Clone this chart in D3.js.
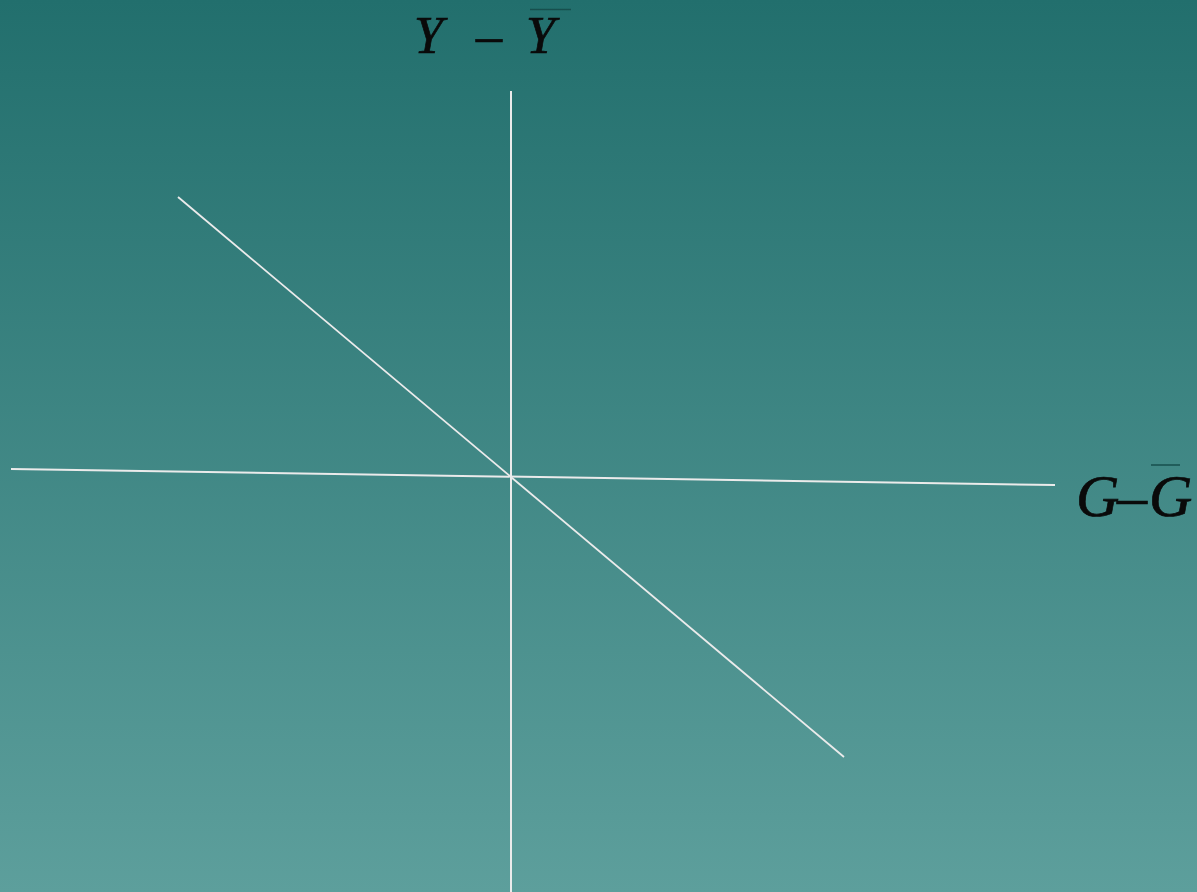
<!DOCTYPE html>
<html>
<head>
<meta charset="utf-8">
<script src="https://cdn.jsdelivr.net/npm/d3@7"></script>
<style>
	html, body { margin: 0; padding: 0; overflow: hidden; }
	svg { display: block; }
</style>
</head>
<body>
<div id="wrap"></div>
<script>
//diagram values, in data units (origin = G-Gbar = 0, Y-Ybar = 0)
var horizAxis = [[-5.00, 0.08], [5.44, -0.08]];
var vertAxis = [[0, 3.86], [0, -4.15]];
var schedule = [[-3.33, 2.80], [3.33, -2.80]];

//label pieces: text, x offset, baseline, overline?
var yLabel = [
	{t: "Y", x: 414, y: 53, bar: false},
	{t: "\u2013", x: 476, y: 53, bar: false},
	{t: "Y", x: 526, y: 53, bar: true}
];
var gLabel = [
	{t: "G", x: 1076, y: 516, bar: false},
	{t: "\u2013", x: 1117, y: 516, bar: false},
	{t: "G", x: 1149, y: 516, bar: true}
];

(function(){
	var W = 1197, H = 892;

	var svg = d3.select("#wrap").append("svg")
		.attr("width", W)
		.attr("height", H);

	//background gradient, dark teal at top to lighter teal at bottom
	var grad = svg.append("defs").append("linearGradient")
		.attr("id", "bg")
		.attr("x1", 0).attr("y1", 0).attr("x2", 0).attr("y2", 1);
	grad.append("stop").attr("offset", "0%").attr("stop-color", "#226f6d");
	grad.append("stop").attr("offset", "100%").attr("stop-color", "#5d9f9c");

	svg.append("rect")
		.attr("width", W).attr("height", H)
		.attr("fill", "url(#bg)");

	//100px per unit, origin at (511, 477)
	var x = d3.scaleLinear().domain([-5, 5]).range([11, 1011]);
	var y = d3.scaleLinear().domain([-5, 5]).range([977, -23]);

	var line = d3.line()
		.x(function(d){return x(d[0])})
		.y(function(d){return y(d[1])});

	svg.append("g").selectAll("path")
		.data([horizAxis, vertAxis, schedule])
		.enter().append("path")
		.attr("d", line)
		.attr("fill", "none")
		.attr("stroke", "#ebebeb")
		.attr("stroke-width", function(d,i){return i<2 ? 2 : 1.8});

	function label(parts, size){
		var g = svg.append("g");
		g.selectAll("text").data(parts).enter().append("text")
			.attr("x", function(d){return d.x})
			.attr("y", function(d){return d.y})
			.attr("font-family", "'Liberation Serif', 'Times New Roman', serif")
			.attr("font-style", function(d){return d.t==="\u2013" ? "normal" : "italic"})
			.attr("font-size", size)
			.attr("fill", "#0a0a0a")
			.attr("stroke", "#0a0a0a")
			.attr("stroke-width", 0.7)
			.text(function(d){return d.t});
		return g;
	}

	label(yLabel, 52);
	label(gLabel, 60);

	//overlines above the means
	svg.append("line")
		.attr("x1", 530).attr("x2", 571).attr("y1", 9.5).attr("y2", 9.5)
		.attr("stroke", "#174f4e").attr("stroke-width", 1.5);
	svg.append("line")
		.attr("x1", 1151).attr("x2", 1180).attr("y1", 465).attr("y2", 465)
		.attr("stroke", "#174f4e").attr("stroke-width", 1.5);

})();
</script>
</body>
</html>
